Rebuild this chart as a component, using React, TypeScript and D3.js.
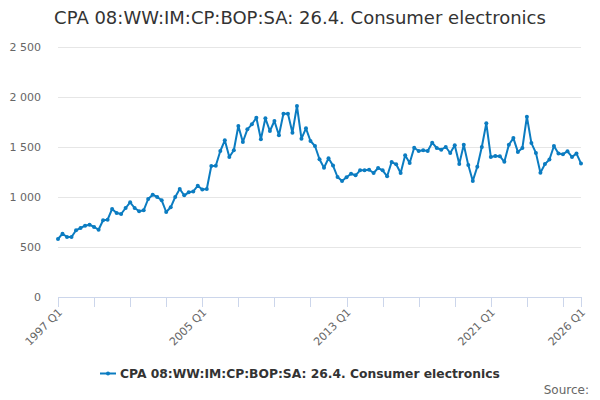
import { useRef, useEffect } from "react";
import * as d3 from "d3";

// Quarterly values, 1997 Q1 .. 2026 Q1 (117 quarters)
const VALUES: number[] = [
  // 1997
  580, 633, 600, 600,
  // 1998
  667, 690, 713, 723,
  // 1999
  700, 673, 767, 773,
  // 2000
  880, 840, 830, 890,
  // 2001
  947, 890, 857, 867,
  // 2002
  980, 1023, 1000, 967,
  // 2003
  850, 897, 1000, 1080,
  // 2004
  1017, 1047, 1055, 1113,
  // 2005
  1075, 1080, 1310, 1312,
  // 2006
  1460, 1567, 1400, 1467,
  // 2007
  1710, 1550, 1677, 1727,
  // 2008
  1793, 1577, 1787, 1660,
  // 2009
  1760, 1617, 1833, 1833,
  // 2010
  1643, 1910, 1583, 1687,
  // 2011
  1560, 1510, 1377, 1293,
  // 2012
  1387, 1314, 1200, 1160,
  // 2013
  1197, 1233, 1217, 1267,
  // 2014
  1267, 1273, 1240, 1290,
  // 2015
  1267, 1207, 1350, 1327,
  // 2016
  1240, 1417, 1340, 1493,
  // 2017
  1460, 1467, 1460, 1543,
  // 2018
  1490, 1473, 1500, 1440,
  // 2019
  1518, 1331, 1523, 1319,
  // 2020
  1161, 1303, 1500, 1737,
  // 2021
  1401, 1411, 1408, 1352,
  // 2022
  1523, 1589, 1451, 1490,
  // 2023
  1803, 1539, 1441, 1243,
  // 2024
  1329, 1375, 1510, 1434,
  // 2025
  1428, 1457, 1401, 1434,
  // 2026
  1336,
];

const START_YEAR = 1997;
const LABELS: string[] = VALUES.map(
  (_, i) => `${START_YEAR + Math.floor(i / 4)} Q${(i % 4) + 1}`
);
const Y_TICKS = [0, 500, 1000, 1500, 2000, 2500];
const TITLE = "CPA 08:WW:IM:CP:BOP:SA: 26.4. Consumer electronics";
const SERIES_NAME = TITLE;

const WIDTH = 600;
const HEIGHT = 400;
const LINE_COLOR = "#0b7cc1";
const FONT = "'DejaVu Sans', sans-serif";

export default function App() {
  const svgRef = useRef<SVGSVGElement>(null);

  useEffect(() => {
    if (!svgRef.current) return;
    const svg = d3.select(svgRef.current);
    svg.selectAll("*").remove();

    const left = 58;
    const right = 581;
    const top = 47;
    const bottom = 297;

    const x = d3.scaleLinear().domain([0, VALUES.length - 1]).range([left, right]);
    const y = d3.scaleLinear().domain([0, 2500]).range([bottom, top]);

    svg.attr("width", WIDTH).attr("height", HEIGHT).style("font-family", FONT);

    svg.append("rect").attr("width", WIDTH).attr("height", HEIGHT).attr("fill", "#fff");

    // title
    svg
      .append("text")
      .attr("x", WIDTH / 2)
      .attr("y", 24)
      .attr("text-anchor", "middle")
      .attr("fill", "#333")
      .style("font-size", "18px")
      .text(TITLE);

    // grid lines + y labels
    const grid = svg.append("g");
    Y_TICKS.forEach((t) => {
      if (t > 0) {
        grid
          .append("line")
          .attr("x1", left)
          .attr("x2", right)
          .attr("y1", Math.round(y(t)) + 0.5)
          .attr("y2", Math.round(y(t)) + 0.5)
          .attr("stroke", "#e6e6e6");
      }
      grid
        .append("text")
        .attr("x", 41)
        .attr("y", y(t) + 4)
        .attr("text-anchor", "end")
        .attr("fill", "#666")
        .style("font-size", "11px")
        .text(d3.format(",")(t).replace(/,/g, " "));
    });

    // x axis line
    svg
      .append("line")
      .attr("x1", left)
      .attr("x2", right + 1)
      .attr("y1", bottom + 0.5)
      .attr("y2", bottom + 0.5)
      .attr("stroke", "#ccd6eb");

    // ticks every 8 quarters + last point; labels every 32 quarters + last
    const tickIdx = d3.range(0, VALUES.length, 8);
    if (tickIdx[tickIdx.length - 1] !== VALUES.length - 1) tickIdx.push(VALUES.length - 1);
    const labelIdx = d3.range(0, VALUES.length, 32);
    if (labelIdx[labelIdx.length - 1] !== VALUES.length - 1) labelIdx.push(VALUES.length - 1);

    const xa = svg.append("g");
    tickIdx.forEach((i) => {
      const px = Math.round(x(i)) + 0.5;
      xa.append("line")
        .attr("x1", px)
        .attr("x2", px)
        .attr("y1", bottom)
        .attr("y2", bottom + 10)
        .attr("stroke", "#ccd6eb");
    });
    labelIdx.forEach((i) => {
      xa.append("text")
        .attr("transform", `translate(${x(i) + 5},${bottom + 16}) rotate(-45)`)
        .attr("text-anchor", "end")
        .attr("fill", "#666")
        .style("font-size", "11px")
        .text(LABELS[i]);
    });

    // series line
    const line = d3
      .line<number>()
      .x((_, i) => x(i))
      .y((d) => y(d));

    svg
      .append("path")
      .datum(VALUES)
      .attr("d", line)
      .attr("fill", "none")
      .attr("stroke", LINE_COLOR)
      .attr("stroke-width", 2)
      .attr("stroke-linejoin", "round");

    svg
      .append("g")
      .selectAll("circle")
      .data(VALUES)
      .join("circle")
      .attr("cx", (_, i) => x(i))
      .attr("cy", (d) => y(d))
      .attr("r", 2)
      .attr("fill", LINE_COLOR);

    // legend
    const legend = svg.append("g").attr("transform", "translate(100,373)");
    legend
      .append("line")
      .attr("x1", 0)
      .attr("x2", 16)
      .attr("y1", 0.5)
      .attr("y2", 0.5)
      .attr("stroke", LINE_COLOR)
      .attr("stroke-width", 2);
    legend.append("circle").attr("cx", 8).attr("cy", 0.5).attr("r", 2).attr("fill", LINE_COLOR);
    legend
      .append("text")
      .attr("x", 20)
      .attr("y", 5)
      .attr("fill", "#333")
      .style("font-size", "12.3px")
      .style("font-weight", "bold")
      .text(SERIES_NAME);

    // credits
    svg
      .append("text")
      .attr("x", 589)
      .attr("y", 394)
      .attr("text-anchor", "end")
      .attr("fill", "#666")
      .style("font-size", "12px")
      .text("Source:");
  }, []);

  return (
    <svg
      ref={svgRef}
      style={{ display: "block", position: "absolute", left: 0, top: 0 }}
    />
  );
}
